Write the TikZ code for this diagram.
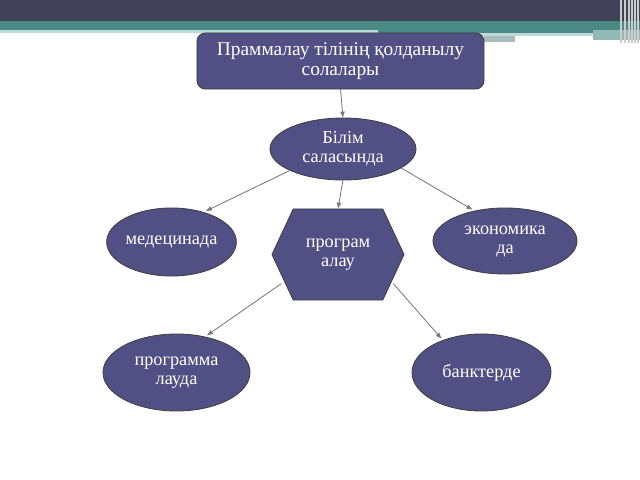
\documentclass[tikz,border=0pt]{standalone}
\usepackage{fontspec}
\setmainfont{Liberation Serif}
\usetikzlibrary{shapes.geometric,shapes.symbols,arrows.meta}
\definecolor{slatebox}{RGB}{80,80,132}
\definecolor{barnavy}{RGB}{65,65,88}
\definecolor{barteal}{RGB}{75,137,134}
\definecolor{barpale}{RGB}{190,218,216}
\definecolor{bargray}{RGB}{168,188,188}
\definecolor{linkgray}{RGB}{120,120,120}
\begin{document}
\begin{tikzpicture}[
        x=0.025cm, y=-0.025cm,
        box/.style={fill=slatebox, draw=black!75, line width=0.6pt, text=white,
                    align=center, inner sep=0pt, outer sep=0pt,
                    font=\fontsize{13}{13.5}\selectfont},
        headbox/.style={box, rounded corners=6pt, minimum width=7.175cm,
                    minimum height=1.4cm, font=\fontsize{13.8}{14.5}\selectfont},
        blob/.style 2 args={box, ellipse, minimum width=#1, minimum height=#2},
        hexa/.style 2 args={box, signal, signal to=east and west,
                    signal pointer angle=130, minimum width=#1, minimum height=#2},
        link/.style={draw=linkgray, line width=0.6pt, -{Latex[length=4.5pt,width=3.5pt]}},
      ]
      \useasboundingbox (0,0) rectangle (640,480);
      % Slide header bars
      \fill[barnavy] (0,0) rectangle (640,21);
      \fill[barteal] (0,21) rectangle (640,30);
      \fill[barpale] (0,30) rectangle (378,33);
      \fill[barteal] (378,30) rectangle (600,33);
      \fill[barpale] (378,33) rectangle (593,36);
      \fill[bargray] (484,36) rectangle (515,42);
      \fill[barteal!60] (593,30) rectangle (640,40);
      \foreach \sx in {620,624,628,631,634,637}{
        \fill[gray!40] (\sx,0) rectangle (\sx+1.5,43);
      }
      % Nodes
      \node[headbox] (head) at (340.5,61) {Праммалау тілінің қолданылу\\солалары};
      \node[blob={3.65cm}{1.55cm}] (bilim) at (343,149) {Білім\\саласында};
      \node[blob={2.975cm}{1.7cm}] (medic) at (171.5,242) {медецинада};
      \node[hexa={3.3cm}{2.275cm}] (progr) at (338,254.5) {програм\\алау};
      \node[blob={3.6cm}{1.65cm}] (econ) at (505,241) {экономика\\да};
      \node[blob={3.675cm}{1.925cm}] (lauda) at (176.5,372.5) {программа\\лауда};
      \node[blob={3.475cm}{1.925cm}] (bank) at (481.5,372.5) {банктерде};
      % Connectors
      \draw[link] (head.south) -- (bilim.north);
      \draw[link] (bilim.202) -- ([shift={(1pt,1pt)}]medic.42);
      \draw[link] (bilim.south) -- (progr.north);
      \draw[link] (bilim.342) -- ([shift={(-1pt,1pt)}]econ.136);
      \draw[link] ([shift={(-3pt,0pt)}]progr.209) -- ([shift={(1pt,1pt)}]lauda.51);
      \draw[link] ([shift={(2pt,0pt)}]progr.331) -- ([shift={(-1pt,1pt)}]bank.140);
    \end{tikzpicture}
\end{document}
